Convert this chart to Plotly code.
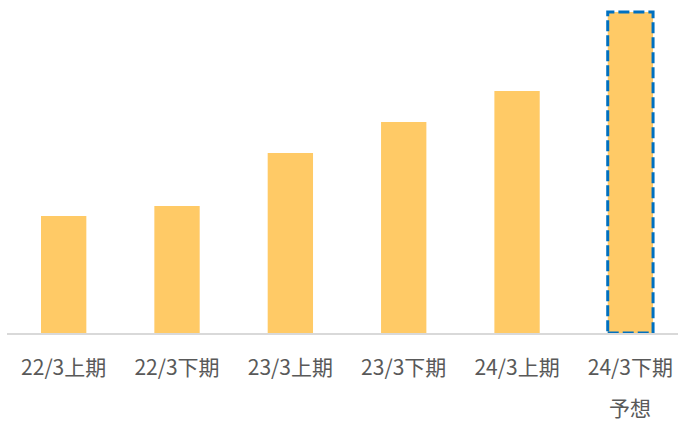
import plotly.graph_objects as go

categories = ["22/3上期", "22/3下期", "23/3上期", "23/3下期", "24/3上期", "24/3下期"]
values = [117, 127, 180, 211, 242, 321]
forecast_note = "予想"

bar_color = "#FFCA66"
label_color = "#595959"
font_family = "Noto Sans CJK JP"

fig = go.Figure()
fig.add_trace(go.Bar(
    x=categories, y=values, width=0.4,
    marker=dict(color=bar_color, line=dict(width=0)),
    hoverinfo="skip",
))

# dashed highlight around forecast bar
fig.add_shape(
    type="rect", xref="x", yref="y",
    x0=5 - 0.2, x1=5 + 0.2, y0=0, y1=values[5],
    line=dict(color="#0070C0", width=3, dash="11px,4px"),
    fillcolor="rgba(0,0,0,0)", layer="above",
)

fig.add_annotation(
    x=categories[5], y=0, xref="x", yref="y",
    text=forecast_note, showarrow=False, yanchor="middle",
    yshift=-74, font=dict(family=font_family, size=21, color=label_color),
)

fig.update_layout(
    width=678, height=421,
    margin=dict(l=7, r=0, t=0, b=88),
    paper_bgcolor="white", plot_bgcolor="white",
    showlegend=False,
    font=dict(family=font_family, size=21, color=label_color),
)
fig.update_xaxes(
    type="category", range=[-0.5, 5.42],
    showline=True, linecolor="#D9D9D9", linewidth=1.5,
    showgrid=False, ticks="", ticklabelstandoff=15,
    tickfont=dict(family=font_family, size=21, color=label_color),
)
fig.update_yaxes(
    range=[0, 333], visible=False, showgrid=False, zeroline=False,
)

fig.write_html(
    "out.html",
    config={"displayModeBar": False},
    post_script="document.body.style.margin='0';document.body.style.overflow='hidden';",
)
